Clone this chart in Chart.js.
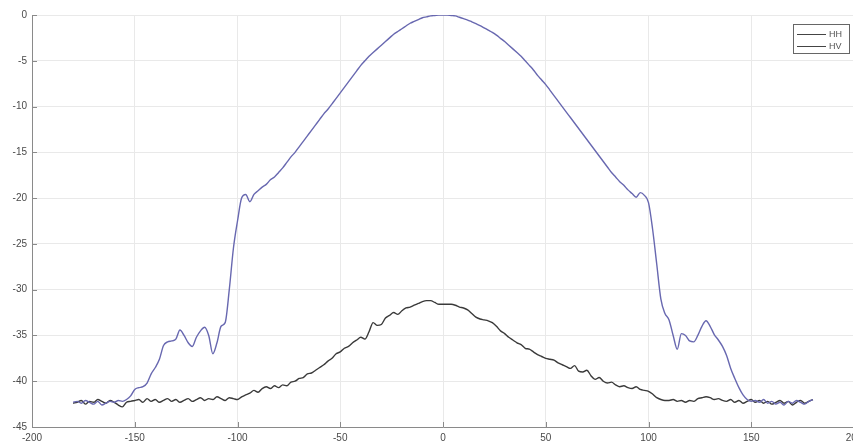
<!DOCTYPE html>
<html>
<head>
<meta charset="utf-8">
<script src="https://cdn.jsdelivr.net/npm/chart.js@4/dist/chart.umd.min.js"></script>
<style>
  body { margin: 0; background: #fff; overflow: hidden; }
  #wrap { width: 856px; height: 443px; }
</style>
</head>
<body>
<div id="wrap"><canvas id="chart" width="856" height="443"></canvas></div>
<script>
// angle (deg)
const angles = [
  -180,-178,-176,-174,-172,-170,-168,-166,-164,-162,
  -160,-158,-156,-154,-152,-150,-148,-146,-144,-142,
  -140,-138,-136,-134,-132,-130,-128,-126,-124,-122,
  -120,-118,-116,-114,-112,-110,-108,-106,-104,-102,
  -100,-98,-96,-94,-92,-90,-88,-86,-84,-82,
  -80,-78,-76,-74,-72,-70,-68,-66,-64,-62,
  -60,-58,-56,-54,-52,-50,-48,-46,-44,-42,
  -40,-38,-36,-34,-32,-30,-28,-26,-24,-22,
  -20,-18,-16,-14,-12,-10,-8,-6,-4,-2,
  0,2,4,6,8,10,12,14,16,18,
  20,22,24,26,28,30,32,34,36,38,
  40,42,44,46,48,50,52,54,56,58,
  60,62,64,66,68,70,72,74,76,78,
  80,82,84,86,88,90,92,94,96,98,
  100,102,104,106,108,110,112,114,116,118,
  120,122,124,126,128,130,132,134,136,138,
  140,142,144,146,148,150,152,154,156,158,
  160,162,164,166,168,170,172,174,176,178,
  180
];

// HH level (dB)
const hhLevel = [
  -42.3,-42.2,-42.4,-42.1,-42.3,-42.5,-42.2,-42.6,-42.4,-42.2,
  -42.3,-42.1,-42.2,-42.0,-41.6,-40.9,-40.7,-40.6,-40.2,-39.2,
  -38.5,-37.6,-36.1,-35.7,-35.6,-35.4,-34.4,-35.0,-35.8,-36.2,
  -35.2,-34.5,-34.1,-35.0,-37.0,-35.8,-34.0,-33.6,-30.0,-25.5,
  -22.5,-20.0,-19.6,-20.4,-19.6,-19.2,-18.8,-18.5,-18.0,-17.7,
  -17.2,-16.7,-16.1,-15.5,-15.0,-14.4,-13.8,-13.2,-12.6,-12.0,
  -11.4,-10.8,-10.3,-9.7,-9.1,-8.5,-7.9,-7.3,-6.7,-6.1,
  -5.5,-5.0,-4.5,-4.1,-3.7,-3.3,-2.9,-2.5,-2.1,-1.8,
  -1.5,-1.2,-0.9,-0.7,-0.5,-0.3,-0.2,-0.1,-0.05,0,
  0,0,-0.05,-0.1,-0.25,-0.4,-0.55,-0.75,-0.95,-1.15,
  -1.4,-1.65,-1.9,-2.2,-2.55,-2.9,-3.3,-3.7,-4.1,-4.5,
  -5.0,-5.5,-6.0,-6.6,-7.1,-7.6,-8.2,-8.8,-9.4,-10.0,
  -10.6,-11.2,-11.8,-12.4,-13.0,-13.6,-14.2,-14.8,-15.4,-16.0,
  -16.6,-17.2,-17.7,-18.2,-18.6,-19.1,-19.5,-19.9,-19.4,-19.7,
  -20.5,-23.4,-27.2,-31.0,-32.6,-33.3,-35.0,-36.5,-34.8,-35.0,
  -35.6,-35.7,-35.0,-34.0,-33.4,-34.0,-34.9,-35.5,-36.2,-37.2,
  -38.6,-39.7,-40.7,-41.5,-42.0,-42.2,-42.1,-42.3,-42.0,-42.4,
  -42.2,-42.5,-42.3,-42.6,-42.2,-42.4,-42.1,-42.3,-42.5,-42.2,
  -42.0
];

// HV level (dB)
const hvLevel = [
  -42.4,-42.3,-42.1,-42.5,-42.2,-42.3,-42.0,-42.2,-42.4,-42.1,
  -42.3,-42.6,-42.8,-42.3,-42.2,-42.1,-42.0,-42.3,-41.9,-42.2,
  -42.0,-42.3,-42.1,-41.9,-42.2,-42.0,-42.3,-42.1,-41.9,-42.2,
  -42.0,-41.8,-42.1,-41.9,-42.0,-41.7,-41.9,-42.1,-41.8,-41.9,
  -42.0,-41.7,-41.5,-41.3,-41.0,-41.2,-40.8,-40.6,-40.8,-40.5,
  -40.7,-40.4,-40.5,-40.1,-40.0,-39.7,-39.6,-39.2,-39.1,-38.8,
  -38.5,-38.2,-37.8,-37.5,-37.0,-36.8,-36.4,-36.2,-35.8,-35.5,
  -35.2,-35.4,-34.6,-33.6,-33.9,-33.8,-33.1,-32.8,-32.5,-32.7,
  -32.3,-32.0,-31.9,-31.7,-31.5,-31.3,-31.2,-31.2,-31.4,-31.6,
  -31.6,-31.6,-31.6,-31.7,-31.9,-32.0,-32.2,-32.6,-33.0,-33.2,
  -33.3,-33.4,-33.6,-34.0,-34.5,-34.8,-35.2,-35.5,-35.8,-36.0,
  -36.4,-36.5,-36.8,-37.1,-37.3,-37.5,-37.6,-37.7,-38.0,-38.2,
  -38.4,-38.6,-38.3,-38.9,-39.0,-38.8,-39.4,-39.8,-39.6,-40.0,
  -40.2,-40.1,-40.4,-40.6,-40.5,-40.7,-40.8,-40.6,-40.9,-41.0,
  -41.1,-41.4,-41.8,-42.0,-42.1,-42.1,-42.0,-42.2,-42.1,-42.3,
  -42.1,-42.2,-41.9,-41.8,-41.7,-41.8,-42.0,-41.9,-42.1,-42.2,
  -42.0,-42.3,-42.1,-42.4,-42.2,-42.0,-42.3,-42.1,-42.4,-42.2,
  -42.5,-42.3,-42.1,-42.4,-42.2,-42.6,-42.3,-42.1,-42.4,-42.2,
  -42.0
];

const seriesNames = ['HH', 'HV'];
const xTicks = [-200, -150, -100, -50, 0, 50, 100, 150, 200];
const yTicks = [0, -5, -10, -15, -20, -25, -30, -35, -40, -45];

const tickFont = '"Liberation Sans Narrow", "Liberation Sans", Arial, sans-serif';
const toPoints = vals => angles.map((a, i) => ({ x: a, y: vals[i] }));

// matlab style inward ticks
const innerTicks = {
  id: 'innerTicks',
  afterDraw(chart) {
    const { ctx, chartArea, scales } = chart;
    ctx.save();
    ctx.strokeStyle = '#8a8a8a';
    ctx.lineWidth = 1;
    ctx.beginPath();
    xTicks.forEach(v => {
      const px = Math.round(scales.x.getPixelForValue(v)) + 0.5;
      ctx.moveTo(px, chartArea.bottom);
      ctx.lineTo(px, chartArea.bottom - 5);
    });
    yTicks.forEach(v => {
      const py = Math.round(scales.y.getPixelForValue(v)) + 0.5;
      ctx.moveTo(chartArea.left, py);
      ctx.lineTo(chartArea.left + 5, py);
    });
    ctx.stroke();
    ctx.restore();
  }
};

// legend box in the top right corner
const boxLegend = {
  id: 'boxLegend',
  afterDraw(chart) {
    const ctx = chart.ctx;
    ctx.save();
    ctx.fillStyle = '#fff';
    ctx.fillRect(793, 24, 56, 29);
    ctx.strokeStyle = '#666';
    ctx.lineWidth = 1;
    ctx.strokeRect(793.5, 24.5, 56, 29);
    ctx.font = '9px ' + tickFont;
    ctx.textBaseline = 'middle';
    seriesNames.forEach((name, i) => {
      const y = 34.5 + i * 12;
      ctx.strokeStyle = '#444';
      ctx.beginPath();
      ctx.moveTo(797, y);
      ctx.lineTo(826, y);
      ctx.stroke();
      ctx.fillStyle = '#555';
      ctx.fillText(name, 829, y);
    });
    ctx.restore();
  }
};

new Chart(document.getElementById('chart'), {
  type: 'line',
  data: {
    datasets: [{
      label: seriesNames[0],
      data: toPoints(hhLevel),
      borderColor: 'rgb(104, 104, 176)',
      borderWidth: 1.4,
      pointRadius: 0,
      cubicInterpolationMode: 'monotone'
    }, {
      label: seriesNames[1],
      data: toPoints(hvLevel),
      borderColor: '#3a3a3a',
      borderWidth: 1.4,
      pointRadius: 0,
      cubicInterpolationMode: 'monotone'
    }]
  },
  options: {
    responsive: false,
    animation: false,
    layout: { padding: { top: 15, right: 2, left: 0, bottom: 0 } },
    plugins: {
      legend: { display: false },
      tooltip: { enabled: false }
    },
    scales: {
      x: {
        type: 'linear',
        min: -200,
        max: 200,
        afterBuildTicks: s => { s.ticks = xTicks.map(v => ({ value: v })); },
        afterFit: s => { s.height = 16; s.paddingLeft = 0; s.paddingRight = 0; },
        ticks: {
          maxRotation: 0,
          padding: 5,
          color: '#4a4a4a',
          font: { family: tickFont, size: 10 }
        },
        grid: { color: '#e9e9e9', drawTicks: false },
        border: { color: '#8a8a8a' }
      },
      y: {
        min: -45,
        max: 0,
        afterBuildTicks: s => { s.ticks = yTicks.map(v => ({ value: v })); },
        afterFit: s => { s.width = 32; s.paddingTop = 0; s.paddingBottom = 0; },
        ticks: {
          padding: 5,
          color: '#4a4a4a',
          font: { family: tickFont, size: 10 }
        },
        grid: { color: '#e9e9e9', drawTicks: false },
        border: { color: '#8a8a8a' }
      }
    }
  },
  plugins: [innerTicks, boxLegend]
});
</script>
</body>
</html>
